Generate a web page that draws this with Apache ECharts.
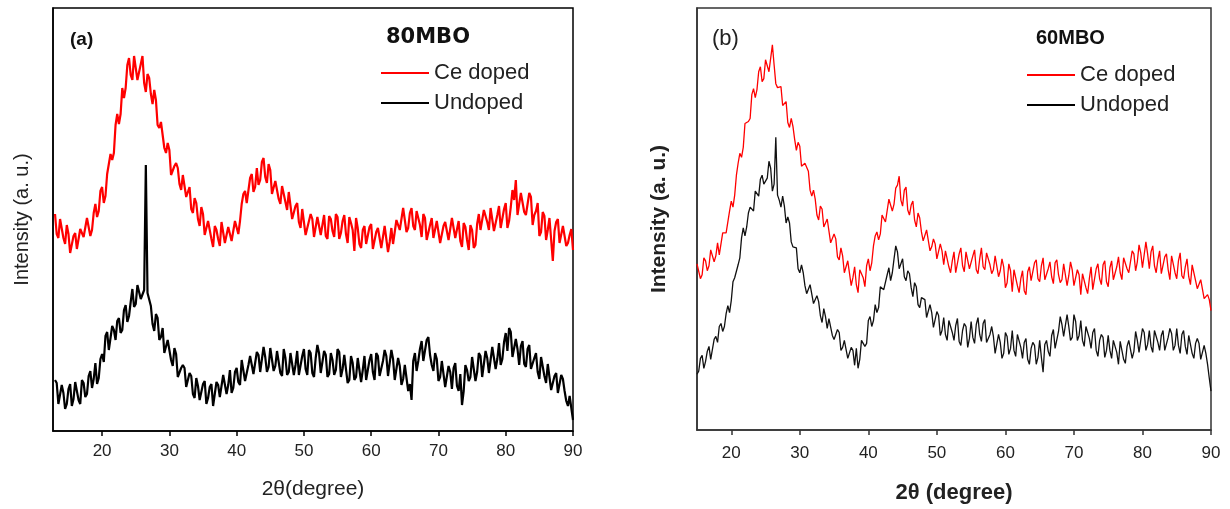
<!DOCTYPE html>
<html>
<head>
<meta charset="utf-8">
<title>XRD 80MBO / 60MBO</title>
<script src="https://cdn.jsdelivr.net/npm/echarts@6/dist/echarts.min.js"></script>
<style>
  html, body { margin: 0; padding: 0; background: #fff; }
  #chart { width: 1230px; height: 509px; }
</style>
</head>
<body>
<div id="chart"></div>
<script>
const thetaStep = 0.25;
const thetaStartA = 13;
const thetaStartB = 15;

const xTicks = [20, 30, 40, 50, 60, 70, 80, 90];
const seriesNames = ["Ce doped", "Undoped"];
const panelTitles = ["80MBO", "60MBO"];

// panel (a) 80MBO, intensity in arbitrary units, 13..90 deg
const ceDopedA = [
  217, 197, 193, 212, 211, 193, 187, 206, 197, 178, 177, 195, 198, 182, 180, 202, 202, 194, 192, 213,
  215, 195, 201, 218, 227, 214, 220, 240, 244, 228, 235, 257, 267, 277, 271, 278, 306, 317, 307, 317,
  343, 333, 343, 366, 373, 356, 351, 375, 375, 351, 349, 367, 375, 348, 339, 357, 353, 337, 327, 341,
  331, 306, 303, 309, 307, 283, 278, 288, 281, 256, 256, 265, 268, 263, 247, 241, 256, 258, 234, 234,
  244, 222, 218, 233, 228, 212, 205, 224, 217, 196, 197, 210, 211, 192, 184, 205, 201, 192, 185, 209,
  208, 188, 187, 204, 206, 190, 188, 210, 211, 197, 210, 227, 237, 240, 228, 230, 253, 257, 239, 244,
  263, 246, 251, 269, 273, 254, 248, 267, 261, 237, 238, 250, 251, 232, 227, 245, 243, 229, 221, 239,
  237, 212, 211, 225, 228, 209, 203, 222, 221, 196, 197, 210, 217, 212, 194, 194, 214, 216, 196, 198,
  216, 195, 192, 215, 212, 200, 194, 217, 214, 192, 198, 210, 216, 197, 188, 214, 208, 201, 180, 213,
  203, 187, 183, 201, 205, 187, 187, 204, 207, 182, 181, 199, 203, 202, 183, 185, 205, 207, 179, 189,
  203, 187, 187, 211, 210, 201, 202, 223, 225, 199, 203, 218, 223, 205, 201, 220, 219, 206, 194, 217,
  213, 191, 191, 206, 213, 193, 193, 210, 211, 188, 189, 205, 209, 208, 191, 191, 213, 213, 193, 195,
  210, 190, 184, 208, 204, 191, 181, 206, 201, 183, 186, 207, 217, 201, 203, 221, 223, 209, 201, 223,
  221, 200, 199, 216, 225, 203, 204, 222, 228, 203, 210, 224, 241, 231, 251, 216, 215, 238, 239, 219,
  216, 216, 238, 234, 206, 216, 220, 228, 195, 199, 219, 215, 191, 201, 213, 215, 170, 200, 209, 212,
  188, 188, 205, 203, 185, 188, 196, 202, 181
];
const undopedA = [
  51, 48, 27, 27, 46, 38, 22, 27, 42, 47, 25, 32, 49, 48, 31, 27, 51, 48, 34, 37,
  55, 60, 43, 52, 68, 47, 53, 72, 77, 69, 95, 99, 81, 83, 105, 101, 91, 110, 113, 98,
  101, 121, 126, 109, 115, 129, 142, 124, 127, 146, 147, 132, 132, 141, 266, 138, 136, 125, 107, 100,
  117, 113, 91, 94, 103, 78, 79, 91, 90, 71, 65, 83, 77, 54, 53, 63, 66, 63, 44, 42,
  58, 55, 37, 33, 53, 45, 31, 33, 47, 50, 27, 33, 44, 47, 25, 25, 49, 46, 34, 34,
  56, 57, 37, 46, 61, 38, 43, 59, 63, 49, 46, 71, 73, 50, 51, 66, 75, 73, 57, 58,
  79, 76, 59, 59, 84, 74, 59, 64, 83, 83, 60, 65, 80, 78, 58, 55, 82, 73, 56, 59,
  78, 79, 56, 66, 80, 56, 58, 75, 82, 62, 56, 81, 78, 58, 54, 73, 86, 78, 58, 60,
  80, 76, 54, 57, 78, 71, 56, 61, 82, 79, 54, 62, 76, 75, 48, 51, 75, 68, 51, 54,
  73, 74, 49, 61, 75, 51, 53, 71, 77, 59, 51, 78, 75, 55, 53, 70, 81, 75, 55, 57,
  81, 72, 51, 52, 73, 65, 46, 52, 66, 67, 40, 47, 31, 70, 78, 60, 70, 82, 90, 70,
  72, 91, 94, 76, 66, 60, 78, 72, 50, 54, 70, 70, 44, 46, 65, 59, 42, 63, 68, 45,
  40, 57, 26, 40, 66, 61, 50, 54, 74, 74, 50, 59, 78, 75, 54, 54, 80, 73, 58, 60,
  84, 82, 62, 72, 88, 66, 72, 89, 98, 80, 103, 99, 74, 72, 92, 82, 66, 85, 90, 67,
  64, 82, 86, 62, 60, 73, 78, 59, 52, 74, 72, 55, 48, 67, 68, 41, 42, 55, 58, 38,
  36, 56, 52, 40, 30, 25, 35, 34, 11
];

// panel (b) 60MBO, 15..90 deg
const ceDopedB = [
  167, 167, 152, 156, 173, 170, 160, 165, 181, 182, 169, 175, 188, 176, 178, 198, 200, 198, 200, 220,
  230, 224, 236, 256, 268, 278, 274, 284, 308, 310, 310, 313, 337, 343, 334, 342, 360, 365, 350, 353,
  372, 370, 360, 360, 387, 367, 348, 344, 346, 345, 326, 324, 330, 309, 304, 313, 305, 292, 281, 289,
  285, 265, 263, 268, 267, 260, 241, 235, 241, 232, 216, 211, 225, 222, 204, 203, 212, 210, 188, 186,
  197, 192, 174, 171, 183, 175, 158, 160, 170, 169, 145, 153, 164, 146, 138, 161, 163, 153, 144, 165,
  172, 160, 168, 185, 195, 199, 191, 197, 216, 215, 209, 211, 232, 234, 220, 227, 243, 246, 255, 231,
  225, 241, 244, 221, 216, 226, 230, 211, 204, 218, 213, 199, 190, 189, 201, 199, 180, 184, 192, 187,
  172, 170, 187, 180, 166, 180, 181, 164, 158, 170, 179, 158, 159, 177, 183, 165, 159, 179, 181, 162,
  161, 175, 181, 161, 157, 172, 183, 164, 161, 178, 179, 166, 157, 161, 175, 174, 154, 160, 172, 164,
  143, 148, 167, 160, 139, 161, 160, 145, 138, 152, 160, 140, 136, 159, 164, 150, 148, 168, 171, 152,
  149, 165, 173, 151, 149, 162, 169, 154, 147, 168, 171, 156, 148, 151, 167, 165, 145, 155, 169, 161,
  145, 145, 161, 156, 136, 157, 159, 143, 137, 152, 164, 141, 140, 162, 167, 152, 146, 166, 170, 149,
  144, 163, 170, 151, 150, 164, 174, 158, 151, 173, 174, 162, 158, 160, 180, 177, 160, 169, 186, 178,
  163, 164, 189, 177, 162, 179, 185, 165, 158, 171, 180, 157, 156, 174, 177, 161, 151, 175, 175, 158,
  152, 170, 178, 155, 152, 164, 172, 154, 146, 166, 164, 150, 142, 141, 151, 151, 132, 134, 136, 131,
  120
];
const undopedB = [
  56, 59, 72, 75, 62, 69, 79, 84, 71, 73, 91, 94, 88, 104, 107, 99, 104, 117, 125, 118,
  130, 149, 153, 155, 166, 173, 193, 203, 195, 204, 218, 224, 222, 220, 240, 241, 235, 252, 256, 247,
  250, 253, 270, 263, 240, 247, 294, 236, 231, 224, 235, 225, 208, 214, 208, 189, 184, 186, 183, 162,
  158, 166, 158, 145, 137, 136, 146, 146, 127, 128, 135, 129, 115, 108, 122, 114, 102, 112, 110, 95,
  91, 90, 101, 98, 80, 83, 90, 91, 72, 71, 83, 80, 65, 82, 62, 71, 90, 87, 84, 87,
  110, 114, 104, 110, 126, 118, 123, 144, 145, 141, 141, 156, 163, 150, 158, 172, 185, 179, 162, 161,
  172, 154, 150, 160, 157, 143, 134, 148, 144, 126, 123, 133, 135, 131, 113, 114, 126, 118, 103, 102,
  119, 115, 95, 100, 113, 96, 90, 110, 112, 98, 90, 105, 112, 89, 85, 100, 107, 104, 83, 92,
  109, 93, 87, 106, 113, 96, 89, 107, 111, 88, 87, 96, 104, 94, 77, 79, 96, 88, 72, 77,
  98, 94, 76, 82, 100, 80, 74, 96, 96, 83, 72, 88, 92, 71, 66, 82, 88, 85, 66, 73,
  90, 73, 58, 86, 90, 79, 74, 95, 101, 82, 82, 99, 114, 106, 94, 95, 116, 104, 90, 93,
  116, 109, 90, 95, 110, 90, 84, 104, 106, 92, 82, 98, 102, 80, 74, 90, 96, 93, 73, 80,
  95, 80, 72, 90, 92, 78, 66, 89, 89, 71, 67, 84, 90, 88, 72, 79, 99, 90, 78, 80,
  102, 98, 80, 86, 100, 84, 78, 100, 102, 88, 80, 95, 100, 80, 78, 93, 102, 97, 80, 85,
  102, 85, 77, 96, 100, 84, 76, 95, 95, 77, 72, 87, 92, 87, 71, 71, 85, 77, 66, 52,
  39
];

function toPairs(start, values) {
  return values.map((v, i) => [start + i * thetaStep, v]);
}

const font = "Liberation Sans";
const chart = echarts.init(document.getElementById("chart"));

function xAxisFor(grid, min, name, nameStyle, labelMargin, color) {
  return {
    gridIndex: grid,
    type: "value",
    min: min,
    max: 90,
    minInterval: 10,
    maxInterval: 10,
    splitLine: { show: false },
    axisLine: { lineStyle: { color: color, width: 1.5 } },
    axisTick: { show: true, inside: false, length: 5, lineStyle: { color: color, width: 1.5 } },
    axisLabel: {
      color: "#222",
      fontSize: 17,
      fontFamily: font,
      margin: labelMargin,
      showMinLabel: false,
      formatter: v => (xTicks.indexOf(v) >= 0 ? String(v) : "")
    },
    name: name,
    nameLocation: "middle",
    nameGap: nameStyle.gap,
    nameTextStyle: { color: "#222", fontSize: nameStyle.size, fontWeight: nameStyle.weight, fontFamily: font }
  };
}

function yAxisFor(grid, max, nameStyle, color) {
  return {
    gridIndex: grid,
    type: "value",
    min: 0,
    max: max,
    axisLine: { show: true, lineStyle: { color: color, width: 1.5 } },
    axisTick: { show: false },
    axisLabel: { show: false },
    splitLine: { show: false },
    name: "Intensity (a. u.)",
    nameLocation: "middle",
    nameGap: nameStyle.gap,
    nameTextStyle: { color: "#222", fontSize: nameStyle.size, fontWeight: nameStyle.weight, fontFamily: font }
  };
}

function lineSeries(name, grid, data, color, width) {
  return {
    name: name,
    type: "line",
    xAxisIndex: grid,
    yAxisIndex: grid,
    data: data,
    symbol: "none",
    showSymbol: false,
    lineStyle: { color: color, width: width, join: "bevel" },
    itemStyle: { color: color }
  };
}

function legendAt(left, top) {
  return {
    orient: "vertical", left: left, top: top, padding: 0,
    icon: "rect", itemWidth: 48, itemHeight: 2, itemGap: 8,
    data: seriesNames,
    textStyle: { fontSize: 22, color: "#222", fontFamily: font }
  };
}

chart.setOption({
  animation: false,
  backgroundColor: "#fff",
  textStyle: { fontFamily: font },
  grid: [
    { left: 53, top: 8, width: 520, height: 423, show: true, borderColor: "#000", borderWidth: 1.5 },
    { left: 697, top: 8, width: 514, height: 424, show: true, borderColor: "#333", borderWidth: 1.5 }
  ],
  title: [
    { text: "(a)", left: 70, top: 30, padding: 0, textStyle: { fontSize: 19, fontWeight: "bold", color: "#111", fontFamily: font } },
    { text: panelTitles[0], left: 386, top: 27, padding: 0, textStyle: { fontSize: 21, fontWeight: "bold", color: "#111", fontFamily: "DejaVu Sans" } },
    { text: "(b)", left: 712, top: 28, padding: 0, textStyle: { fontSize: 22, fontWeight: "normal", color: "#222", fontFamily: font } },
    { text: panelTitles[1], left: 1036, top: 28, padding: 0, textStyle: { fontSize: 20, fontWeight: "bold", color: "#111", fontFamily: font } }
  ],
  legend: [legendAt(381, 62), legendAt(1027, 64)],
  xAxis: [
    xAxisFor(0, 12.7, "2θ(degree)", { gap: 48, size: 21, weight: "normal" }, 12, "#000"),
    xAxisFor(1, 15, "2θ (degree)", { gap: 52, size: 22, weight: "bold" }, 15, "#333")
  ],
  yAxis: [
    yAxisFor(0, 423, { gap: 21, size: 20, weight: "normal" }, "#000"),
    yAxisFor(1, 424, { gap: 27, size: 21, weight: "bold" }, "#333")
  ],
  series: [
    lineSeries(seriesNames[0], 0, toPairs(thetaStartA, ceDopedA), "#ff0000", 2.2),
    lineSeries(seriesNames[1], 0, toPairs(thetaStartA, undopedA), "#000000", 2.2),
    lineSeries(seriesNames[0], 1, toPairs(thetaStartB, ceDopedB), "#ff0000", 1.3),
    lineSeries(seriesNames[1], 1, toPairs(thetaStartB, undopedB), "#111111", 1.3)
  ]
});
</script>
</body>
</html>
